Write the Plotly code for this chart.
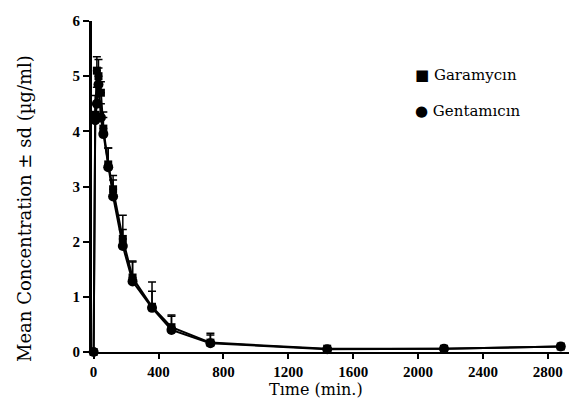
import plotly.graph_objects as go

time_min = [0, 10, 20, 30, 45, 60, 90, 120, 180, 240, 360, 480, 720, 1440, 2160, 2880]
garamycin = [0, 4.3, 5.1, 5.0, 4.7, 4.05, 3.4, 2.95, 2.05, 1.35, 0.82, 0.45, 0.17, 0.06, 0.06, 0.1]
garamycin_sd = [0, 0.35, 0.25, 0.3, 0.2, 0.3, 0.3, 0.25, 0.43, 0.3, 0.45, 0.22, 0.17, 0, 0, 0]
gentamicin = [0, 4.2, 4.5, 4.85, 4.25, 3.95, 3.35, 2.82, 1.92, 1.28, 0.8, 0.4, 0.16, 0.05, 0.06, 0.1]
gentamicin_sd = [0, 0.3, 0.3, 0.3, 0.25, 0.3, 0.35, 0.3, 0.3, 0.35, 0.3, 0.25, 0.15, 0, 0, 0]
x_ticks = [0, 400, 800, 1200, 1600, 2000, 2400, 2800]
y_ticks = [0, 1, 2, 3, 4, 5, 6]

fig = go.Figure()
fig.add_trace(go.Scatter(
    x=time_min, y=garamycin, mode="lines+markers", name="Garamycın",
    line=dict(color="black", width=2),
    marker=dict(symbol="square", size=8, color="black"),
    error_y=dict(type="data", symmetric=False, array=garamycin_sd,
                 arrayminus=[0] * len(garamycin_sd), color="black", thickness=1.5, width=4),
    cliponaxis=False, showlegend=False))
fig.add_trace(go.Scatter(
    x=time_min, y=gentamicin, mode="lines+markers", name="Gentamıcın",
    line=dict(color="black", width=2),
    marker=dict(symbol="circle", size=10, color="black"),
    error_y=dict(type="data", symmetric=False, array=gentamicin_sd,
                 arrayminus=[0] * len(gentamicin_sd), color="black", thickness=1.5, width=4),
    cliponaxis=False, showlegend=False))

tickfont = dict(family="Liberation Sans Narrow", size=15, color="black", weight="bold")
serif = "DejaVu Serif"

# plot area in page pixels: left 92, right 577, top 21, bottom 352 (page body has 8px margin)
fig.update_layout(
    width=569, height=395,
    margin=dict(l=84, r=0, t=13, b=51),
    paper_bgcolor="white", plot_bgcolor="white",
    xaxis=dict(range=[-10, 2980], tickvals=x_ticks, ticks="outside", ticklen=5,
               tickwidth=2, tickcolor="black", showline=True, linecolor="black",
               linewidth=2, showgrid=False, zeroline=False, tickfont=tickfont,
               automargin=False),
    yaxis=dict(range=[0, 6], tickvals=y_ticks, ticks="outside", ticklen=6,
               tickwidth=2, tickcolor="black", showline=True, linecolor="black",
               linewidth=3, showgrid=False, zeroline=False, tickfont=tickfont,
               automargin=False),
    annotations=[
        dict(xref="paper", yref="paper", x=(413 - 92) / 485, y=(352 - 75) / 331,
             xanchor="left", yanchor="middle",
             text="■ Garamycın", showarrow=False, font=dict(family=serif, size=15, color="black")),
        dict(xref="paper", yref="paper", x=(413 - 92) / 485, y=(352 - 111) / 331,
             xanchor="left", yanchor="middle",
             text="● Gentamıcın", showarrow=False, font=dict(family=serif, size=15, color="black")),
        dict(xref="paper", yref="paper", x=(316 - 92) / 485, y=-(389 - 352) / 331,
             xanchor="center", yanchor="middle", text="Tıme (min.)", showarrow=False,
             font=dict(family=serif, size=16, color="black")),
        dict(xref="paper", yref="paper", x=-(92 - 25) / 485, y=(352 - 209) / 331,
             xanchor="center", yanchor="middle", text="Mean Concentration ± sd (µg/ml)",
             textangle=-90, showarrow=False, font=dict(family=serif, size=18, color="black")),
    ],
)
fig.write_html("out.html")
